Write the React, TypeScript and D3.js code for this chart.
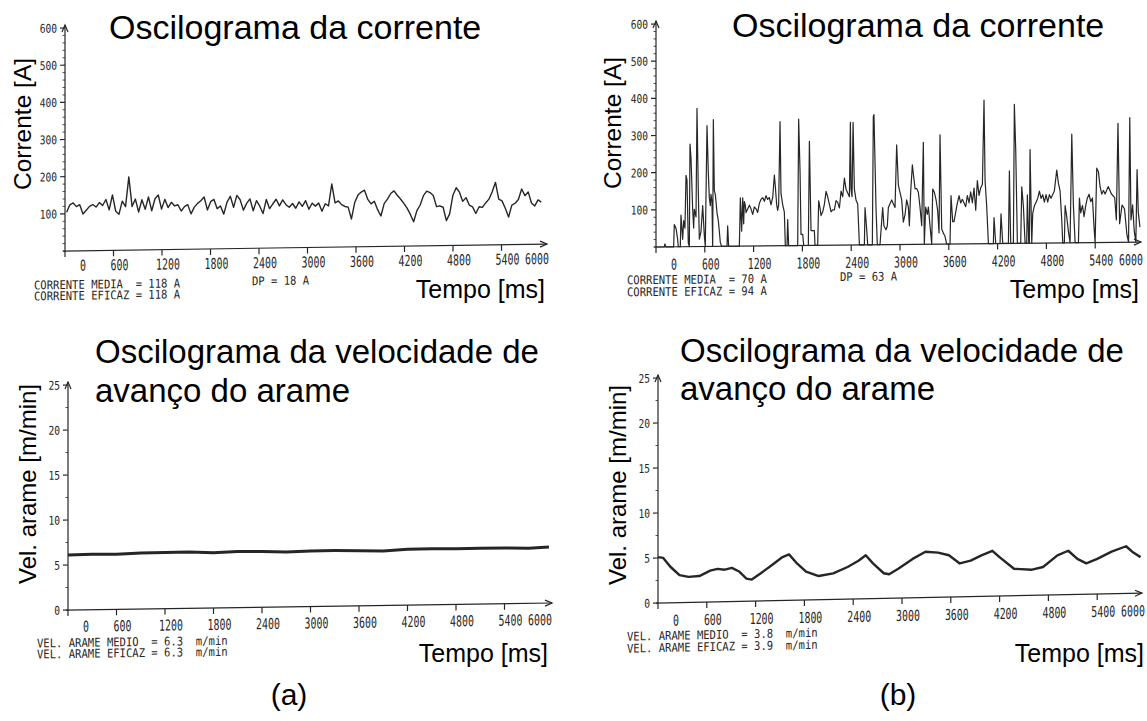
import React from 'react';
import * as d3 from 'd3';

// ---------- data ----------
const TIME_TICKS_MS = [0, 600, 1200, 1800, 2400, 3000, 3600, 4200, 4800, 5400, 6000];
const CURRENT_TICKS_A = [100, 200, 300, 400, 500, 600];
const SPEED_TICKS = [0, 5, 10, 15, 20, 25];

// (a) current, sampled at a constant step
const A_CURRENT_START_MS = 20;
const A_CURRENT_STEP_MS = 40.5;
const A_CURRENT_A = [
  104, 124, 129, 119, 124, 99, 109, 119, 124, 117,
  129, 121, 137, 109, 149, 105, 97, 132, 117, 197,
  117, 137, 102, 135, 109, 142, 105, 137, 147, 109,
  135, 113, 127, 117, 120, 103, 115, 120, 95, 113,
  123, 130, 140, 105, 127, 133, 108, 115, 93, 125,
  141, 111, 143, 131, 103, 121, 133, 101, 128, 113,
  93, 131, 106, 119, 131, 113, 129,
  116, 109, 119, 106, 123, 111, 126, 103,
  119, 111, 119, 97, 117, 111, 170, 119, 124, 114,
  109, 107, 75, 119, 139,
  147, 152, 127, 115, 122, 99, 82, 115, 127, 142,
  149, 137, 127, 115, 102,
  85, 65, 95, 110, 135, 147, 143, 135, 105, 107,
  103, 67, 85, 135, 155,
  143, 118, 128, 108, 103, 85, 103, 101, 113, 123,
  143, 168, 123, 118, 98,
  74, 106, 111,
  121, 149, 131, 141, 111, 103, 119, 113,
];

// (b) current [time ms, current A]
const B_CURRENT: [number, number][] = [
  [0, 0], [102, 0], [110, 8], [122, 0],
  [217, 0], [225, 60], [246, 50], [266, 20], [274, 0],
  [299, 0], [307, 85], [328, 20], [340, 70], [356, 50], [369, 192], [381, 180], [397, 10], [410, 0],
  [418, 276], [430, 240], [451, 100], [463, 50], [471, 100], [492, 80], [504, 372], [520, 150], [533, 20], [553, 40], [574, 110], [594, 30], [606, 0],
  [627, 325], [643, 200], [656, 130], [668, 110], [676, 140], [688, 120], [697, 0], [705, 341], [717, 150], [729, 140], [738, 120], [750, 90], [758, 80], [766, 70], [779, 40], [791, 10], [807, 0],
  [873, 0], [881, 55], [893, 0],
  [1025, 0], [1037, 130], [1053, 40], [1066, 130], [1078, 60], [1086, 120], [1098, 110], [1107, 90], [1127, 100], [1148, 110], [1168, 100], [1189, 85], [1209, 105], [1230, 100], [1250, 90], [1271, 115], [1291, 125], [1312, 130], [1332, 120], [1353, 135], [1373, 125], [1394, 130], [1414, 110], [1435, 130], [1455, 190], [1467, 160], [1484, 110], [1496, 95], [1508, 110], [1525, 334], [1537, 140], [1558, 110], [1578, 90], [1590, 0], [1611, 0], [1619, 70], [1631, 0],
  [1742, 0], [1754, 340], [1771, 200], [1783, 30], [1804, 30], [1816, 0],
  [1873, 0], [1886, 280], [1906, 40], [1927, 40], [1947, 40], [1955, 0],
  [1988, 0], [2000, 120], [2017, 100], [2029, 80], [2050, 90], [2070, 110], [2091, 145], [2111, 130], [2132, 110], [2152, 90], [2173, 95], [2193, 95], [2214, 120], [2234, 115], [2255, 100], [2275, 145], [2296, 130], [2316, 180], [2337, 150], [2357, 140], [2378, 130], [2390, 330], [2398, 150], [2410, 130], [2423, 330], [2439, 150], [2460, 120], [2480, 110], [2501, 0], [2562, 0], [2570, 100], [2591, 40], [2603, 0],
  [2660, 0], [2672, 345], [2680, 350], [2705, 100], [2721, 0], [2754, 0],
  [2787, 100], [2803, 50], [2828, 40], [2844, 50], [2857, 100], [2877, 110], [2898, 120], [2918, 110], [2939, 100], [2959, 268], [2980, 160], [3000, 140], [3021, 120], [3041, 60], [3062, 80], [3082, 120], [3103, 100], [3115, 50], [3131, 140], [3152, 214], [3164, 190], [3185, 150], [3205, 150], [3226, 140], [3246, 100], [3267, 50], [3287, 274], [3299, 0], [3316, 100], [3336, 80], [3349, 100], [3369, 50], [3390, 0], [3402, 148], [3422, 140], [3443, 120], [3463, 90], [3480, 30], [3492, 294], [3513, 40], [3533, 30], [3554, 20], [3574, 0],
  [3615, 0], [3627, 130], [3648, 60], [3664, 60], [3689, 90], [3705, 110], [3726, 130], [3746, 110], [3767, 120], [3787, 110], [3808, 100], [3828, 130], [3849, 110], [3869, 140], [3890, 110], [3910, 150], [3931, 90], [3951, 170], [3972, 130], [3992, 150], [4013, 160], [4033, 386], [4046, 170], [4066, 100], [4087, 0], [4148, 0], [4156, 70], [4177, 0], [4230, 0], [4242, 80], [4263, 0], [4333, 0],
  [4345, 195], [4361, 0], [4394, 0], [4406, 374], [4423, 250], [4443, 0], [4484, 0], [4497, 152], [4517, 100], [4538, 0], [4558, 0], [4566, 130], [4583, 0], [4591, 0], [4599, 252], [4620, 0], [4632, 80], [4652, 100], [4673, 110], [4693, 120], [4714, 140], [4734, 120], [4755, 130], [4775, 110], [4796, 130], [4816, 110], [4837, 130], [4857, 120], [4878, 130], [4898, 140], [4927, 196], [4948, 160], [4968, 140], [4989, 60], [5001, 0], [5021, 0], [5030, 100], [5050, 70], [5071, 30], [5091, 0], [5112, 292], [5132, 100], [5153, 0], [5194, 0], [5206, 120], [5222, 80], [5243, 100], [5263, 70], [5284, 100], [5304, 120], [5325, 130], [5345, 110], [5366, 120], [5386, 40], [5399, 0], [5419, 200], [5440, 190], [5460, 150], [5481, 130], [5501, 140], [5522, 130],
  [5560, 150], [5600, 130], [5640, 120], [5660, 60], [5680, 320], [5700, 50], [5730, 100], [5760, 90], [5790, 20], [5810, 0], [5825, 335], [5840, 60], [5860, 100], [5880, 30], [5900, 0], [5915, 195], [5930, 80], [5950, 40],
];

// (a) wire speed [time ms, m/min]
const A_SPEED: [number, number][] = [
  [0, 6.1], [300, 6.16], [600, 6.12], [900, 6.23], [1200, 6.24], [1500, 6.25], [1800, 6.12],
  [2100, 6.23], [2400, 6.19], [2700, 6.1], [3000, 6.16], [3300, 6.17], [3600, 6.13], [3900, 6.04],
  [4200, 6.2], [4500, 6.22], [4800, 6.18], [5100, 6.19], [5400, 6.2], [5700, 6.11], [5950, 6.23],
];

// (b) wire speed [time ms, m/min]
const B_SPEED: [number, number][] = [
  [0, 5.1], [64, 5.0], [152, 4.0], [264, 3.05], [375, 2.83], [508, 2.9], [642, 3.48], [731, 3.66],
  [820, 3.55], [909, 3.73], [997, 3.32], [1087, 2.5], [1153, 2.39], [1264, 3.07], [1398, 3.94],
  [1531, 4.82], [1611, 5.1], [1709, 4.08], [1820, 3.16], [1976, 2.63], [2154, 2.9], [2331, 3.57],
  [2465, 4.24], [2554, 4.83], [2643, 3.91], [2776, 2.79], [2842, 2.67], [2954, 3.25], [3131, 4.32],
  [3288, 5.09], [3443, 4.96], [3577, 4.64], [3710, 3.71], [3844, 3.99], [3977, 4.56], [4111, 5.04],
  [4199, 4.32], [4377, 2.99], [4599, 2.85], [4734, 3.12], [4911, 4.39], [5044, 4.87], [5156, 3.95],
  [5266, 3.43], [5400, 3.9], [5577, 4.67], [5755, 5.24], [5844, 4.52], [5933, 4.0],
];

const TITLE_CURRENT = ['Oscilograma da corrente'];
const TITLE_SPEED = ['Oscilograma da velocidade de', 'avanço do arame'];
const YLABEL_CURRENT = 'Corrente [A]';
const YLABEL_SPEED = 'Vel. arame [m/min]';
const XLABEL = 'Tempo [ms]';

const A_CURRENT_STATS = ['CORRENTE MEDIA  = 118 A', 'CORRENTE EFICAZ = 118 A'];
const A_CURRENT_DP = 'DP = 18 A';
const B_CURRENT_STATS = ['CORRENTE MEDIA  = 70 A', 'CORRENTE EFICAZ = 94 A'];
const B_CURRENT_DP = 'DP = 63 A';
const A_SPEED_STATS = ['VEL. ARAME MEDIO  = 6.3  m/min', 'VEL. ARAME EFICAZ = 6.3  m/min'];
const B_SPEED_STATS = ['VEL. ARAME MEDIO  = 3.8  m/min', 'VEL. ARAME EFICAZ = 3.9  m/min'];
const CAPTIONS = ['(a)', '(b)'];

// ---------- drawing ----------
const SANS = '"Liberation Sans", Arial, sans-serif';
const MONO = '"DejaVu Sans Mono", "Liberation Mono", monospace';
const PEN = '#262626';
const TXT = '#262626';

type Layout = {
  ax: number; xw: number; y0: number; yTop: number; arrowX: number; tilt: number;
  xLabelY: number; statsX: number; statsY: number[]; dpX?: number; dpY?: number;
  titleX: number; titleY: number[]; titleSize: number;
  yLabX: number; yLabY: number; yLabSize: number;
  tempoX: number; tempoY: number;
};

type PanelProps = {
  L: Layout;
  yMax: number;
  yTicks: number[];
  yMinor: number[];
  showZero: boolean;
  data: [number, number][];
  strokeW: number;
  title: string[];
  ylabel: string;
  stats: string[];
  dp?: string;
};

function Panel({ L, yMax, yTicks, yMinor, showZero, data, strokeW, title, ylabel, stats, dp }: PanelProps) {
  const x = d3.scaleLinear().domain([0, 6000]).range([L.ax, L.ax + L.xw]);
  const y = d3.scaleLinear().domain([0, yMax]).range([L.y0, L.yTop]);
  const line = d3.line<[number, number]>().x(d => x(d[0])).y(d => y(d[1])).curve(d3.curveLinear);
  const labelDx = (t: number) => (t === 0 ? 18 : t === 6000 ? -13 : 6);
  const tipY = L.yTop - 3;
  const skew = -Math.atan(L.tilt / L.xw) * 180 / Math.PI;
  return (
    <g>
      {/* overlay texts (not skewed) */}
      <text fontFamily={SANS} fontSize={L.titleSize} fill="#000">
        {title.map((s, i) => (
          <tspan key={i} x={L.titleX} y={L.titleY[i]}>{s}</tspan>
        ))}
      </text>
      <text transform={`translate(${L.yLabX},${L.yLabY}) rotate(-90)`} textAnchor="middle"
        fontFamily={SANS} fontSize={L.yLabSize} fill="#000">{ylabel}</text>
      <text x={L.tempoX} y={L.tempoY} textAnchor="end" fontFamily={SANS} fontSize={25} fill="#000">{XLABEL}</text>

      {/* plotter sheet, slightly skewed as in the scan */}
      <g transform={`translate(${L.ax},${L.y0}) skewY(${skew}) translate(${-L.ax},${-L.y0})`}>
        <g stroke={PEN} strokeWidth={1.2} fill="none">
          <line x1={L.ax} y1={L.y0 + 6} x2={L.ax} y2={tipY} />
          <path d={`M${L.ax - 3},${tipY + 7} L${L.ax},${tipY} L${L.ax + 3},${tipY + 7}`} />
          <line x1={L.ax - 2} y1={L.y0} x2={L.arrowX} y2={L.y0} />
          <path d={`M${L.arrowX - 7},${L.y0 - 3} L${L.arrowX},${L.y0} L${L.arrowX - 7},${L.y0 + 3}`} />
          {TIME_TICKS_MS.filter(t => t > 0 && t < 6000).map(t => (
            <line key={t} x1={x(t)} y1={L.y0} x2={x(t)} y2={L.y0 + 6} />
          ))}
          {yTicks.map(v => (
            <line key={v} x1={L.ax - 5} y1={y(v)} x2={L.ax} y2={y(v)} />
          ))}
        </g>
        <g stroke={PEN} strokeWidth={0.8}>
          {yMinor.map(v => (
            <line key={v} x1={L.ax - 2.5} y1={y(v)} x2={L.ax} y2={y(v)} />
          ))}
        </g>
        {yTicks.filter(v => showZero || v !== 0).map(v => (
          <text key={v} transform={`translate(${L.ax - 8},${y(v) + 4.5}) scale(0.8,1)`} textAnchor="end"
            fontFamily={MONO} fontSize={12} fill={TXT}>{v}</text>
        ))}
        {TIME_TICKS_MS.map(t => (
          <text key={t} transform={`translate(${x(t) + labelDx(t)},${L.xLabelY}) scale(0.66,1)`} textAnchor="middle"
            fontFamily={MONO} fontSize={15} fill={TXT}>{t}</text>
        ))}
        {stats.map((s, i) => (
          <text key={i} transform={`translate(${L.statsX},${L.statsY[i]}) scale(0.88,1)`} xmlSpace="preserve"
            style={{ whiteSpace: 'pre' }} fontFamily={MONO} fontSize={12} fill={TXT}>{s}</text>
        ))}
        {dp && (
          <text transform={`translate(${L.dpX},${L.dpY}) scale(0.88,1)`} xmlSpace="preserve"
            style={{ whiteSpace: 'pre' }} fontFamily={MONO} fontSize={12} fill={TXT}>{dp}</text>
        )}
        <path d={line(data) || ''} fill="none" stroke={PEN} strokeWidth={strokeW} strokeLinejoin="round" />
      </g>
    </g>
  );
}

const L_TL: Layout = {
  ax: 65, xw: 485, y0: 251, yTop: 28, arrowX: 547, tilt: 7, xLabelY: 271,
  statsX: 34, statsY: [289, 300], dpX: 252, dpY: 288,
  titleX: 109, titleY: [39], titleSize: 34,
  yLabX: 31, yLabY: 124, yLabSize: 24.5, tempoX: 545, tempoY: 298,
};
const L_TR: Layout = {
  ax: 656, xw: 488, y0: 247, yTop: 24, arrowX: 1141, tilt: 5, xLabelY: 270,
  statsX: 627, statsY: [284, 296], dpX: 840, dpY: 283,
  titleX: 732, titleY: [37], titleSize: 34,
  yLabX: 621, yLabY: 123, yLabSize: 24.5, tempoX: 1139, tempoY: 298,
};
const L_BL: Layout = {
  ax: 68, xw: 485, y0: 610, yTop: 385, arrowX: 552, tilt: 7, xLabelY: 632,
  statsX: 37, statsY: [647, 658],
  titleX: 95, titleY: [363, 402], titleSize: 33,
  yLabX: 36, yLabY: 484, yLabSize: 24, tempoX: 548, tempoY: 662,
};
const L_BR: Layout = {
  ax: 658, xw: 488, y0: 603, yTop: 378, arrowX: 1142, tilt: 10, xLabelY: 626,
  statsX: 627, statsY: [640, 652],
  titleX: 680, titleY: [362, 400], titleSize: 33,
  yLabX: 626, yLabY: 485, yLabSize: 24, tempoX: 1144, tempoY: 662,
};

export default function App() {
  const aCurrent: [number, number][] = A_CURRENT_A.map((v, i) => [A_CURRENT_START_MS + i * A_CURRENT_STEP_MS, v]);
  const currentMinor = d3.range(0, 601, 20).filter(v => !CURRENT_TICKS_A.includes(v));
  const speedMinor = d3.range(0, 25.01, 2.5).filter(v => !SPEED_TICKS.includes(v));
  return (
    <svg width={1147} height={721} viewBox="0 0 1147 721"
      style={{ position: 'absolute', left: 0, top: 0, background: '#fff' }}>
      <rect width={1147} height={721} fill="#fff" />
      <Panel L={L_TL} yMax={600} yTicks={CURRENT_TICKS_A} yMinor={currentMinor} showZero={false}
        data={aCurrent} strokeW={1.4} title={TITLE_CURRENT} ylabel={YLABEL_CURRENT}
        stats={A_CURRENT_STATS} dp={A_CURRENT_DP} />
      <Panel L={L_TR} yMax={600} yTicks={CURRENT_TICKS_A} yMinor={currentMinor} showZero={false}
        data={B_CURRENT} strokeW={1.2} title={TITLE_CURRENT} ylabel={YLABEL_CURRENT}
        stats={B_CURRENT_STATS} dp={B_CURRENT_DP} />
      <Panel L={L_BL} yMax={25} yTicks={SPEED_TICKS} yMinor={speedMinor} showZero={true}
        data={A_SPEED} strokeW={3} title={TITLE_SPEED} ylabel={YLABEL_SPEED}
        stats={A_SPEED_STATS} />
      <Panel L={L_BR} yMax={25} yTicks={SPEED_TICKS} yMinor={speedMinor} showZero={true}
        data={B_SPEED} strokeW={2.4} title={TITLE_SPEED} ylabel={YLABEL_SPEED}
        stats={B_SPEED_STATS} />
      <text x={289} y={705} textAnchor="middle" fontFamily={SANS} fontSize={30} fill="#000">{CAPTIONS[0]}</text>
      <text x={898} y={705} textAnchor="middle" fontFamily={SANS} fontSize={30} fill="#000">{CAPTIONS[1]}</text>
    </svg>
  );
}
